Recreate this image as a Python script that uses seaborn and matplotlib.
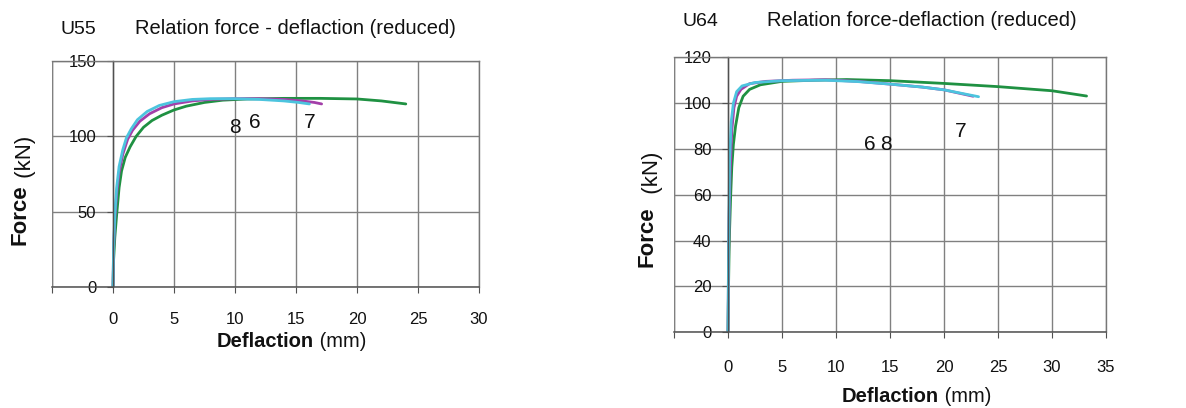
import matplotlib
matplotlib.use("Agg")
import matplotlib.pyplot as plt
import seaborn as sns
import pandas as pd

# ---------------- data ----------------
# U55 (left chart)
u55_7_x = [0, 0.05, 0.15, 0.3, 0.5, 0.7, 1.0, 1.4, 1.9, 2.5, 3.2, 4.0, 5.0, 6.0, 7.5, 9, 11, 14, 17, 20, 22, 24]
u55_7_y = [0, 18, 33, 48, 66, 77, 86, 93, 100, 106, 110.5, 114, 117.5, 120, 122.5, 124, 124.8, 125.2, 125.2, 124.8, 123.5, 121.5]
u55_6_x = [0, 0.05, 0.15, 0.3, 0.5, 0.8, 1.2, 1.6, 2.2, 3.0, 4.0, 5.0, 6.5, 8, 10, 12, 14, 15.5, 16.5, 17.1]
u55_6_y = [0, 25, 45, 62, 76, 88, 98, 104, 110, 115, 119, 121.5, 123.5, 124.5, 125, 125, 124.5, 123.5, 122.5, 121.5]
u55_8_x = [0, 0.05, 0.15, 0.3, 0.5, 0.8, 1.1, 1.5, 2.0, 2.8, 3.8, 5, 6.5, 8, 10, 12, 14, 15.2, 16.1]
u55_8_y = [0, 28, 48, 66, 80, 91, 99, 105, 111, 116.5, 120.5, 123, 124.5, 125, 125, 124.5, 123.5, 122.5, 121.5]

# U64 (right chart)
u64_7_x = [0, 0.05, 0.1, 0.15, 0.25, 0.35, 0.5, 0.7, 1.0, 1.4, 2.0, 3.0, 5, 8, 11, 15, 20, 25, 30, 33.2]
u64_7_y = [0, 20, 35, 45, 60, 72, 82, 90, 98, 103, 106, 108, 109.5, 110, 110.3, 109.8, 108.6, 107.2, 105.4, 103.1]
u64_6_x = [0, 0.05, 0.1, 0.2, 0.35, 0.55, 0.8, 1.2, 2.0, 3.5, 6, 9, 12, 15, 18, 20, 22.7]
u64_6_y = [0, 30, 50, 70, 88, 98, 103, 106, 108.5, 109.5, 110, 110.2, 109.5, 108.3, 107, 105.8, 103]
u64_8_x = [0, 0.05, 0.1, 0.15, 0.3, 0.5, 0.8, 1.3, 2.5, 5, 9, 12, 15, 18, 20, 23.2]
u64_8_y = [0, 35, 55, 75, 92, 100, 105, 107.5, 109, 109.8, 110, 109.4, 108.3, 107, 105.8, 102.8]

left_xticks = [0, 5, 10, 15, 20, 25, 30]
left_yticks = [0, 50, 100, 150]
right_xticks = [0, 5, 10, 15, 20, 25, 30, 35]
right_yticks = [0, 20, 40, 60, 80, 100, 120]

left_labels = [("8", 10.0, 102.2), ("6", 11.64, 105.3), ("7", 16.1, 105.3)]
right_labels = [("6", 13.1, 79.6), ("8", 14.6, 79.6), ("7", 21.5, 85.4)]

# ---------------- style ----------------
sns.set_theme(style="white")
plt.rcParams["font.family"] = ["Liberation Sans", "DejaVu Sans"]

GREEN = "#1f9142"
MAGENTA = "#a33fa9"
CYAN = "#4cc4de"
GRID = "#808080"
BOX = "#777777"
AXIS = "#505050"
TXT = "#111111"

W, H = 1186, 408
fig = plt.figure(figsize=(W / 100, H / 100), dpi=100)


def px_rect(l, t, r, b):
    return [l / W, 1 - b / H, (r - l) / W, (b - t) / H]


def build(ax, series, xticks, yticks, xmax, ymax, labels, xpad):
    for xs, ys, col in series:
        df = pd.DataFrame({"x": xs, "y": ys})
        sns.lineplot(data=df, x="x", y="y", ax=ax, color=col, lw=2.0,
                     sort=False, estimator=None)
    ax.set_xlim(-5, xmax)
    ax.set_ylim(0, ymax)
    ax.set_xticks([-5] + xticks)
    ax.set_xticklabels([""] + [str(v) for v in xticks])
    ax.set_yticks(yticks)
    ax.set_yticklabels([str(v) for v in yticks])
    ax.grid(True, color=GRID, lw=1.0)
    ax.set_axisbelow(True)
    ax.set_xlabel("")
    ax.set_ylabel("")
    ax.spines["left"].set_position(("data", 0))
    ax.spines["left"].set_color(AXIS)
    ax.spines["bottom"].set_color(AXIS)
    for s in ("top", "right"):
        ax.spines[s].set_color(BOX)
        ax.spines[s].set_linewidth(1.0)
    ax.spines["left"].set_linewidth(1.0)
    ax.spines["bottom"].set_linewidth(1.1)
    ax.axvline(-5, color=BOX, lw=1.0, zorder=0.5)
    ax.tick_params(axis="x", bottom=True, direction="out", length=4,
                   width=0.8, color=AXIS, pad=xpad, labelsize=12,
                   labelcolor=TXT)
    ax.tick_params(axis="y", left=True, direction="out", length=4,
                   width=0.8, color=AXIS, pad=8, labelsize=12,
                   labelcolor=TXT)
    for t, x, y in labels:
        ax.text(x, y, t, ha="center", va="baseline", fontsize=15,
                color=TXT)


ax1 = fig.add_axes(px_rect(52, 61, 479, 287))
build(ax1,
      [(u55_7_x, u55_7_y, GREEN), (u55_6_x, u55_6_y, MAGENTA),
       (u55_8_x, u55_8_y, CYAN)],
      left_xticks, left_yticks, 30, 150, left_labels, 14)

ax2 = fig.add_axes(px_rect(674, 57.3, 1106, 332.3))
build(ax2,
      [(u64_7_x, u64_7_y, GREEN), (u64_6_x, u64_6_y, MAGENTA),
       (u64_8_x, u64_8_y, CYAN)],
      right_xticks, right_yticks, 35, 120, right_labels, 16)


def ftxt(xp, yp, s, **kw):
    return fig.text(xp / W, 1 - yp / H, s, **kw)


# titles
ftxt(60, 34, "U55", fontsize=14, ha="left", va="baseline", color=TXT)
ftxt(135, 34, "Relation force - deflaction (reduced)", fontsize=14.5,
     ha="left", va="baseline", color=TXT)
ftxt(682, 26, "U64", fontsize=14, ha="left", va="baseline", color=TXT)
ftxt(767, 26, "Relation force-deflaction (reduced)", fontsize=14.5,
     ha="left", va="baseline", color=TXT)

# x labels (bold + regular)
for xl, yl in [(217, 347), (842, 402)]:
    t = ftxt(xl, yl, "Deflaction", fontsize=14.5, fontweight="bold",
             ha="left", va="baseline", color=TXT)
    plt.annotate(" (mm)", xy=(1, 0), xycoords=t, fontsize=14.5, ha="left",
                 va="bottom", color=TXT, annotation_clip=False)

# y labels (bold + regular, rotated)
for xl, yl, rest in [(25.7, 245, " (kN)"), (652.7, 266.7, "  (kN)")]:
    t = ftxt(xl, yl, "Force", fontsize=16, fontweight="bold", rotation=90,
             rotation_mode="anchor", ha="left", va="baseline", color=TXT)
    plt.annotate(rest, xy=(1, 1), xycoords=t, fontsize=16, rotation=90,
                 rotation_mode="anchor", ha="left", va="baseline",
                 color=TXT, annotation_clip=False)

fig.savefig("out.png", dpi=100, facecolor="white")
